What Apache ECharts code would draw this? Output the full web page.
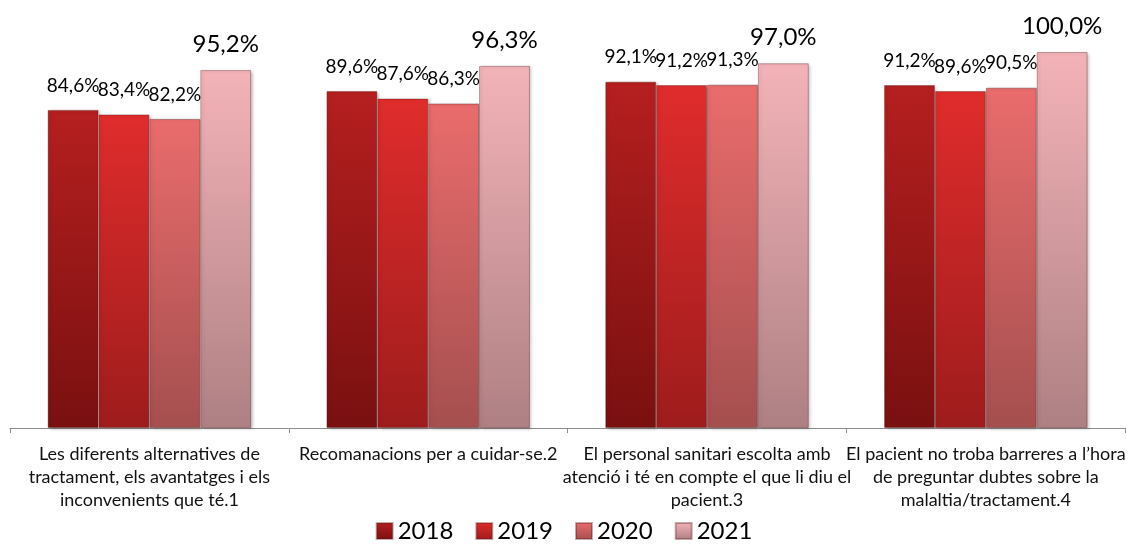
<!DOCTYPE html>
<html>
<head>
<meta charset="utf-8">
<script src="https://cdn.jsdelivr.net/npm/echarts@6/dist/echarts.min.js"></script>
<style>
  html, body { margin: 0; padding: 0; background: #fff; }
  #chart { width: 1128px; height: 544px; }
</style>
</head>
<body>
<div id="chart"></div>
<script>
// Survey items (x-axis categories)
const categories = [
  'Les diferents alternatives de\ntractament, els avantatges i els\ninconvenients que té.1',
  'Recomanacions per a cuidar-se.2',
  'El personal sanitari escolta amb\natenció i té en compte el que li diu el\npacient.3',
  'El pacient no troba barreres a l\u2019hora\nde preguntar dubtes sobre la\nmalaltia/tractament.4'
];

// Percentage of positive answers per year
const years = ['2018', '2019', '2020', '2021'];
const values2018 = [84.6, 89.6, 92.1, 91.2];
const values2019 = [83.4, 87.6, 91.2, 89.6];
const values2020 = [82.2, 86.3, 91.3, 90.5];
const values2021 = [95.2, 96.3, 97.0, 100.0];

const seriesValues = [values2018, values2019, values2020, values2021];

// Vertical gradient per year: bright top, darker bottom
const palette = [
  ['#b51f1f', '#7a1010'],
  ['#e02c2c', '#9e1c1c'],
  ['#ea6c6c', '#a54f4f'],
  ['#f3b3b8', '#ae8083']
];

const fmt = v => v.toFixed(1).replace('.', ',') + '%';
const font = 'Lato, "Open Sans", sans-serif';

const chart = echarts.init(document.getElementById('chart'), null, { renderer: 'canvas' });

const series = years.map((y, i) => ({
  name: y,
  type: 'bar',
  data: seriesValues[i],
  barGap: '0%',
  barCategoryGap: '27%',
  itemStyle: {
    color: new echarts.graphic.LinearGradient(0, 0, 0, 1, [
      { offset: 0, color: palette[i][0] },
      { offset: 1, color: palette[i][1] }
    ]),
    borderColor: 'rgba(90,20,20,0.35)',
    borderWidth: 1,
    shadowColor: 'rgba(0,0,0,0.25)',
    shadowBlur: 3,
    shadowOffsetX: 2,
    shadowOffsetY: 1
  },
  label: {
    show: true,
    position: 'top',
    distance: i === 3 ? 14 : 15,
    color: '#000',
    fontFamily: font,
    fontSize: i === 3 ? 24 : 19,
    formatter: p => fmt(p.value)
  }
}));

chart.setOption({
  animation: false,
  backgroundColor: '#fff',
  grid: { left: 10, top: 52, width: 1120, bottom: 116, containLabel: false },
  xAxis: {
    type: 'category',
    data: categories,
    axisLine: { show: true, lineStyle: { color: '#8c8c8c', width: 1 } },
    axisTick: { show: true, length: 5, alignWithLabel: false, lineStyle: { color: '#8c8c8c' } },
    axisLabel: {
      interval: 0,
      color: '#111',
      fontFamily: font,
      fontSize: 18,
      lineHeight: 23,
      margin: 15
    }
  },
  yAxis: { type: 'value', min: 0, max: 100, show: false },
  legend: {
    data: years,
    bottom: -4,
    left: 'center',
    itemWidth: 16,
    itemHeight: 16,
    itemGap: 22,
    icon: 'rect',
    textStyle: { fontFamily: font, fontSize: 24, color: '#000' }
  },
  series: series
});
</script>
</body>
</html>
